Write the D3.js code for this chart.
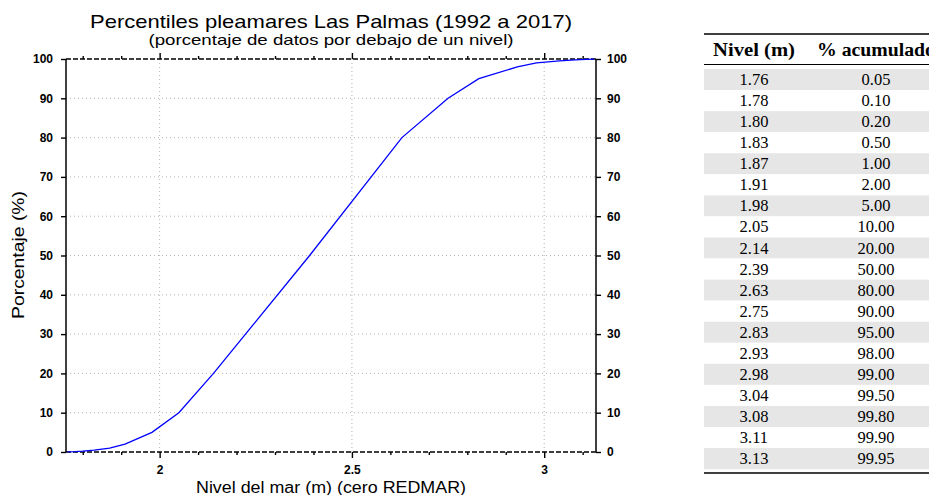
<!DOCTYPE html>
<html>
<head>
<meta charset="utf-8">
<script src="https://cdn.jsdelivr.net/npm/d3@7"></script>
<style>
	body { margin: 0; background: #fff; }
	svg text { fill: #000; }
</style>
</head>
<body>
<div id="chart"></div>
<script>
var niveles = [ 1.76, 1.78, 1.80, 1.83, 1.87, 1.91, 1.98, 2.05, 2.14, 2.39, 2.63, 2.75, 2.83, 2.93, 2.98, 3.04, 3.08, 3.11, 3.13 ];
var acumulado = [ 0.05, 0.10, 0.20, 0.50, 1.00, 2.00, 5.00, 10.00, 20.00, 50.00, 80.00, 90.00, 95.00, 98.00, 99.00, 99.50, 99.80, 99.90, 99.95 ];
var yTicks = [ 0, 10, 20, 30, 40, 50, 60, 70, 80, 90, 100 ];
var xMajor = [ 2, 2.5, 3 ];
var xMinor = [ 1.8, 1.9, 2.1, 2.2, 2.3, 2.4, 2.6, 2.7, 2.8, 2.9, 3.1 ];
var tableHeader = [ "Nivel (m)", "% acumulado" ];

var data = niveles.map( function( d, i ) {
	return { nivel: d, pct: acumulado[ i ] };
} );

// dimensions of the plot frame
var margin = { top: 59, right: 333, bottom: 43, left: 66 },
	fullW = 929, fullH = 495,
	width = fullW - margin.left - margin.right,
	height = fullH - margin.top - margin.bottom;

var x = d3.scaleLinear()
	.domain( [ 1.7565, 3.1347 ] )
	.range( [ 0, width ] );

var y = d3.scaleLinear()
	.domain( [ 0, 100 ] )
	.range( [ height, 0 ] );

var svg = d3.select( "#chart" )
	.append( "svg" )
	.attr( "width", fullW )
	.attr( "height", fullH );

var g = svg.append( "g" )
	.attr( "transform", "translate(" + margin.left + "," + margin.top + ")" );

// dotted grid
g.selectAll( ".hgrid" )
	.data( yTicks.slice( 1, -1 ) )
	.enter().append( "line" )
	.attr( "x1", 0 ).attr( "x2", width )
	.attr( "y1", function( d ) { return y( d ); } )
	.attr( "y2", function( d ) { return y( d ); } )
	.attr( "stroke", "#b4b4b4" )
	.attr( "stroke-width", 1 )
	.attr( "stroke-dasharray", "1,3" );

g.selectAll( ".vgrid" )
	.data( xMajor )
	.enter().append( "line" )
	.attr( "x1", function( d ) { return x( d ); } )
	.attr( "x2", function( d ) { return x( d ); } )
	.attr( "y1", 0 ).attr( "y2", height )
	.attr( "stroke", "#b4b4b4" )
	.attr( "stroke-width", 1 )
	.attr( "stroke-dasharray", "1,3" );

// x axes, bottom and top, with major and minor ticks
var xAxisB = d3.axisBottom( x ).tickValues( xMajor ).tickSize( 6 ).tickFormat( d3.format( "" ) );
var xAxisBm = d3.axisBottom( x ).tickValues( xMinor ).tickSize( 3 ).tickFormat( "" );
var xAxisT = d3.axisTop( x ).tickValues( xMajor ).tickSize( 6 ).tickFormat( "" );
var xAxisTm = d3.axisTop( x ).tickValues( xMinor ).tickSize( 3 ).tickFormat( "" );

var yAxisL = d3.axisLeft( y ).tickValues( yTicks ).tickSize( 5 ).tickPadding( 8 );
var yAxisR = d3.axisRight( y ).tickValues( yTicks ).tickSize( 5 ).tickPadding( 6 );

function styleAxis ( sel ) {
	sel.select( ".domain" ).remove();
	sel.selectAll( "line" ).attr( "stroke", "#000" ).attr( "stroke-width", 1.4 );
	sel.selectAll( "text" )
		.style( "font", "bold 12px 'Liberation Sans', Arial, sans-serif" );
}

g.append( "g" ).attr( "transform", "translate(0," + height + ")" ).call( xAxisB ).call( styleAxis )
	.selectAll( "text" ).attr( "dy", "1.05em" );
g.append( "g" ).attr( "transform", "translate(0," + height + ")" ).call( xAxisBm ).call( styleAxis );
g.append( "g" ).call( xAxisT ).call( styleAxis );
g.append( "g" ).call( xAxisTm ).call( styleAxis );
g.append( "g" ).call( yAxisL ).call( styleAxis );
g.append( "g" ).attr( "transform", "translate(" + width + ",0)" ).call( yAxisR ).call( styleAxis );

// frame: solid sides, dashed top and bottom
g.append( "line" ).attr( "x1", 0 ).attr( "x2", 0 ).attr( "y1", 0 ).attr( "y2", height )
	.attr( "stroke", "#000" ).attr( "stroke-width", 1.5 );
g.append( "line" ).attr( "x1", width ).attr( "x2", width ).attr( "y1", 0 ).attr( "y2", height )
	.attr( "stroke", "#000" ).attr( "stroke-width", 1.5 );
[ 0, height ].forEach( function( yy ) {
	g.append( "line" ).attr( "x1", 0 ).attr( "x2", width ).attr( "y1", yy ).attr( "y2", yy )
		.attr( "stroke", "#000" ).attr( "stroke-width", 1.4 )
		.attr( "stroke-dasharray", "5,2" );
} );

// percentile curve
var line = d3.line()
	.x( function( d ) { return x( d.nivel ); } )
	.y( function( d ) { return y( d.pct ); } );

g.append( "path" )
	.datum( data )
	.attr( "fill", "none" )
	.attr( "stroke", "#0000ff" )
	.attr( "stroke-width", 1.3 )
	.attr( "d", line );

// titles
var sans = "'Liberation Sans', Arial, sans-serif";
svg.append( "text" )
	.attr( "x", 331 ).attr( "y", 28 )
	.attr( "text-anchor", "middle" )
	.attr( "textLength", 482 ).attr( "lengthAdjust", "spacingAndGlyphs" )
	.style( "font", "19px " + sans )
	.text( "Percentiles pleamares Las Palmas (1992 a 2017)" );

svg.append( "text" )
	.attr( "x", 331 ).attr( "y", 45 )
	.attr( "text-anchor", "middle" )
	.attr( "textLength", 365 ).attr( "lengthAdjust", "spacingAndGlyphs" )
	.style( "font", "15px " + sans )
	.text( "(porcentaje de datos por debajo de un nivel)" );

svg.append( "text" )
	.attr( "x", 331 ).attr( "y", 493 )
	.attr( "text-anchor", "middle" )
	.attr( "textLength", 270 ).attr( "lengthAdjust", "spacingAndGlyphs" )
	.style( "font", "16px " + sans )
	.text( "Nivel del mar (m) (cero REDMAR)" );

svg.append( "text" )
	.attr( "transform", "translate(24,255) rotate(-90)" )
	.attr( "text-anchor", "middle" )
	.attr( "textLength", 128 ).attr( "lengthAdjust", "spacingAndGlyphs" )
	.style( "font", "16px " + sans )
	.text( "Porcentaje (%)" );

// table on the right
var serif = "'Liberation Serif', 'DejaVu Serif', serif";
var tLeft = 704, tRight = 940;
var colX = d3.scalePoint().domain( [ 0, 1 ] ).range( [ 754, 876 ] );
var headLen = [ 82, 118 ];
var rowY = d3.scaleBand()
	.domain( d3.range( data.length ) )
	.range( [ 69, 69 + 21.06 * data.length ] );

var tg = svg.append( "g" );

tg.append( "line" ).attr( "x1", tLeft ).attr( "x2", tRight ).attr( "y1", 34 ).attr( "y2", 34 )
	.attr( "stroke", "#000" ).attr( "stroke-width", 1.6 );

tg.selectAll( ".th" )
	.data( tableHeader )
	.enter().append( "text" )
	.attr( "x", function( d, i ) { return colX( i ); } )
	.attr( "y", 56 )
	.attr( "text-anchor", "middle" )
	.attr( "textLength", function( d, i ) { return headLen[ i ]; } )
	.attr( "lengthAdjust", "spacingAndGlyphs" )
	.style( "font", "bold 18px " + serif )
	.text( function( d ) { return d; } );

tg.append( "line" ).attr( "x1", tLeft ).attr( "x2", tRight ).attr( "y1", 64.5 ).attr( "y2", 64.5 )
	.attr( "stroke", "#000" ).attr( "stroke-width", 1 );

tg.selectAll( ".rowbg" )
	.data( data )
	.enter().append( "rect" )
	.attr( "x", tLeft )
	.attr( "y", function( d, i ) { return rowY( i ); } )
	.attr( "width", tRight - tLeft )
	.attr( "height", rowY.bandwidth() )
	.attr( "fill", function( d, i ) { return i % 2 === 0 ? "#e6e6e6" : "#fff"; } );

tg.selectAll( ".c0" )
	.data( data )
	.enter().append( "text" )
	.attr( "x", colX( 0 ) )
	.attr( "y", function( d, i ) { return rowY( i ) + rowY.bandwidth() / 2 + 5.5; } )
	.attr( "text-anchor", "middle" )
	.style( "font", "16.5px " + serif )
	.text( function( d ) { return d.nivel.toFixed( 2 ); } );

tg.selectAll( ".c1" )
	.data( data )
	.enter().append( "text" )
	.attr( "x", colX( 1 ) )
	.attr( "y", function( d, i ) { return rowY( i ) + rowY.bandwidth() / 2 + 5.5; } )
	.attr( "text-anchor", "middle" )
	.style( "font", "16.5px " + serif )
	.text( function( d ) { return d.pct.toFixed( 2 ); } );

tg.append( "line" ).attr( "x1", tLeft ).attr( "x2", tRight ).attr( "y1", 473 ).attr( "y2", 473 )
	.attr( "stroke", "#000" ).attr( "stroke-width", 1.6 );
</script>
</body>
</html>
